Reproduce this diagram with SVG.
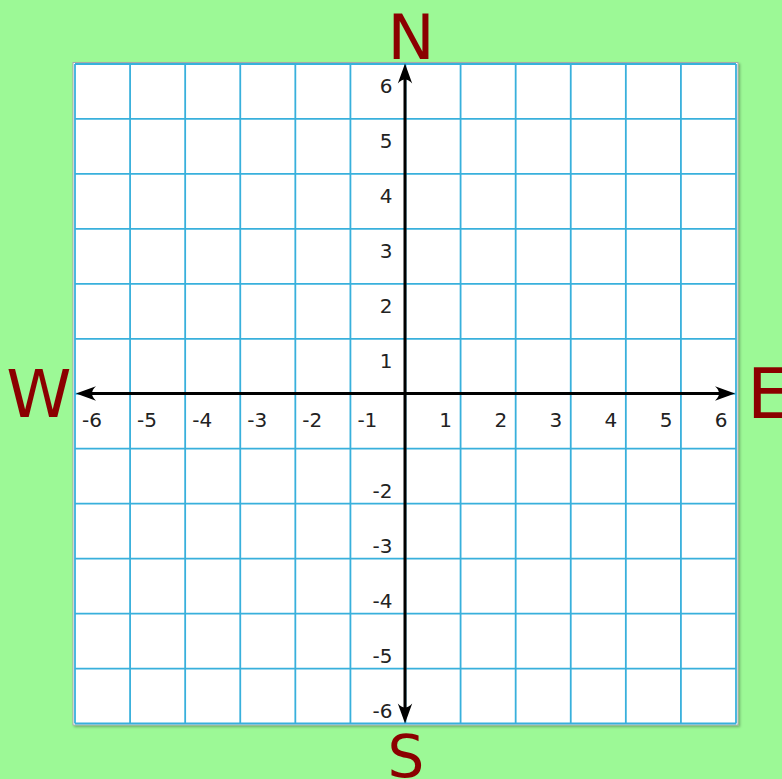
<svg xmlns="http://www.w3.org/2000/svg" width="782" height="779" viewBox="0 0 782 779">
  <defs>
    <style>
      .grid line { stroke: #38b0dc; stroke-width: 1.8; }
      .axis { stroke: #000; stroke-width: 3; fill: none; }
      .head { fill: #000; stroke: none; }
      .num { font-family: "DejaVu Sans", sans-serif; font-size: 20px; fill: #222; }
      .compass { font-family: "DejaVu Sans", sans-serif; fill: #8b0000; }
    </style>
    <filter id="sh" x="-5%" y="-5%" width="110%" height="110%">
      <feDropShadow dx="1.5" dy="1.5" stdDeviation="0.8" flood-color="#000" flood-opacity="0.3"/>
    </filter>
  </defs>
  <rect x="0" y="0" width="782" height="779" fill="#9cf996"/>
  <rect id="paper" x="73" y="62.5" width="665" height="662.5" fill="#fff" stroke="#a8a8a8" stroke-width="1" filter="url(#sh)"/>
  <g id="grid" class="grid">
    <line x1="75" y1="64" x2="75" y2="723.5"/>
    <line x1="130.08" y1="64" x2="130.08" y2="723.5"/>
    <line x1="185.17" y1="64" x2="185.17" y2="723.5"/>
    <line x1="240.25" y1="64" x2="240.25" y2="723.5"/>
    <line x1="295.33" y1="64" x2="295.33" y2="723.5"/>
    <line x1="350.42" y1="64" x2="350.42" y2="723.5"/>
    <line x1="405.5" y1="64" x2="405.5" y2="723.5"/>
    <line x1="460.58" y1="64" x2="460.58" y2="723.5"/>
    <line x1="515.67" y1="64" x2="515.67" y2="723.5"/>
    <line x1="570.75" y1="64" x2="570.75" y2="723.5"/>
    <line x1="625.83" y1="64" x2="625.83" y2="723.5"/>
    <line x1="680.92" y1="64" x2="680.92" y2="723.5"/>
    <line x1="736" y1="64" x2="736" y2="723.5"/>
    <line x1="75" y1="64" x2="736" y2="64"/>
    <line x1="75" y1="118.96" x2="736" y2="118.96"/>
    <line x1="75" y1="173.92" x2="736" y2="173.92"/>
    <line x1="75" y1="228.88" x2="736" y2="228.88"/>
    <line x1="75" y1="283.84" x2="736" y2="283.84"/>
    <line x1="75" y1="338.8" x2="736" y2="338.8"/>
    <line x1="75" y1="393.76" x2="736" y2="393.76"/>
    <line x1="75" y1="448.72" x2="736" y2="448.72"/>
    <line x1="75" y1="503.68" x2="736" y2="503.68"/>
    <line x1="75" y1="558.64" x2="736" y2="558.64"/>
    <line x1="75" y1="613.6" x2="736" y2="613.6"/>
    <line x1="75" y1="668.56" x2="736" y2="668.56"/>
    <line x1="75" y1="723.52" x2="736" y2="723.52"/>
  </g>
  <g id="axes">
    <line class="axis" x1="84" y1="393.5" x2="727" y2="393.5"/>
    <line class="axis" x1="405" y1="72" x2="405" y2="715"/>
    <path class="head" d="M76,393.5 L96,386.3 Q88,393.5 96,400.7 Z"/>
    <path class="head" d="M735,393.5 L715,386.3 Q723,393.5 715,400.7 Z"/>
    <path class="head" d="M405,63.5 L397.8,83.5 Q405,75.5 412.2,83.5 Z"/>
    <path class="head" d="M405,723.5 L397.8,703.5 Q405,711.5 412.2,703.5 Z"/>
  </g>
  <g id="x-labels" class="num">
    <text x="82" y="427">-6</text>
    <text x="137.1" y="427">-5</text>
    <text x="192.2" y="427">-4</text>
    <text x="247.3" y="427">-3</text>
    <text x="302.3" y="427">-2</text>
    <text x="357.4" y="427">-1</text>
    <text x="452.1" y="427" text-anchor="end">1</text>
    <text x="507.2" y="427" text-anchor="end">2</text>
    <text x="562.3" y="427" text-anchor="end">3</text>
    <text x="617.3" y="427" text-anchor="end">4</text>
    <text x="672.4" y="427" text-anchor="end">5</text>
    <text x="727.5" y="427" text-anchor="end">6</text>
  </g>
  <g id="y-labels" class="num" text-anchor="end">
    <text x="392.5" y="93">6</text>
    <text x="392.5" y="148">5</text>
    <text x="392.5" y="202.9">4</text>
    <text x="392.5" y="257.9">3</text>
    <text x="392.5" y="312.8">2</text>
    <text x="392.5" y="367.8">1</text>
    <text x="392.5" y="498.2">-2</text>
    <text x="392.5" y="553.1">-3</text>
    <text x="392.5" y="608.1">-4</text>
    <text x="392.5" y="663.1">-5</text>
    <text x="392.5" y="718">-6</text>
  </g>
  <g id="compass">
    <text id="north" class="compass" x="411" y="59" font-size="63" text-anchor="middle">N</text>
    <text id="west" class="compass" x="39" y="417" font-size="66" text-anchor="middle">W</text>
    <text id="east" class="compass" x="747" y="418" font-size="70">E</text>
    <text id="south" class="compass" x="406" y="777" font-size="58" text-anchor="middle">S</text>
  </g>
</svg>
